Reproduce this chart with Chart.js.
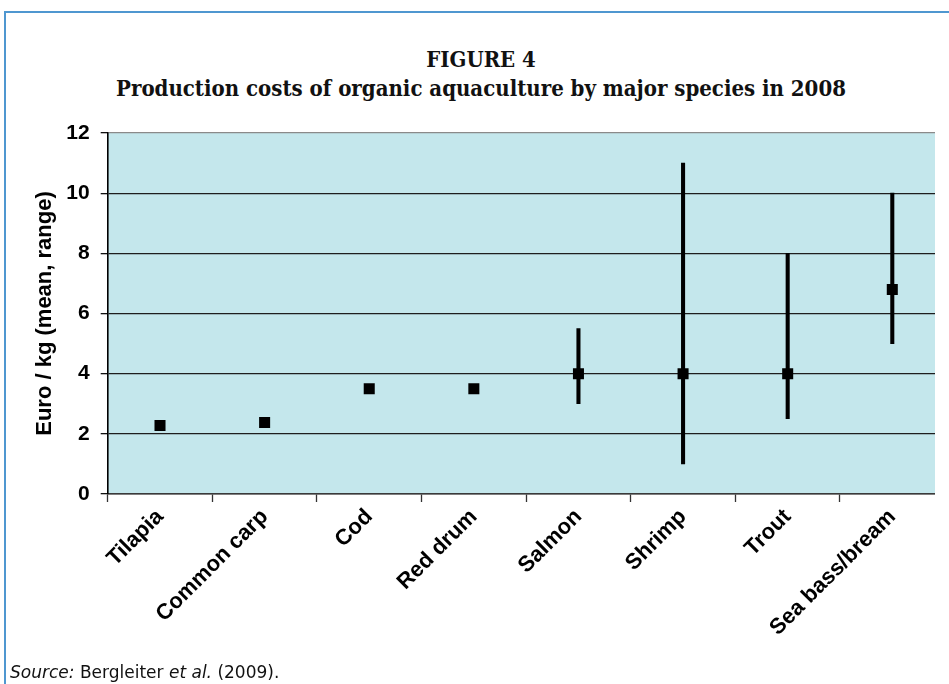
<!DOCTYPE html>
<html>
<head>
<meta charset="utf-8">
<script src="https://cdn.jsdelivr.net/npm/chart.js@4/dist/chart.umd.min.js"></script>
<style>
  html, body { margin: 0; padding: 0; background: #fff; }
  body { width: 949px; height: 684px; position: relative; overflow: hidden; }
  #frame { position: absolute; left: 4px; top: 11px; width: 960px; height: 700px;
           border-top: 2px solid #4f97d0; border-left: 2px solid #4f97d0; }
  .ttl { position: absolute; left: 0; width: 962px; text-align: center; line-height: 26px;
         font-family: "DejaVu Serif Condensed", "DejaVu Serif", serif; font-weight: bold; color: #111; font-size: 22px; }
  #t1 { top: 46px; }
  #t2 { top: 75px; }
  #wrap { position: absolute; left: 0; top: 0; width: 935px; height: 684px; overflow: hidden; }
  #source { position: absolute; left: 10px; top: 662px; line-height: 20px; font-family: "DejaVu Sans", Verdana, sans-serif;
            font-size: 17px; color: #111; }
</style>
</head>
<body>
<div id="frame"></div>
<div id="t1" class="ttl">FIGURE 4</div>
<div id="t2" class="ttl">Production costs of organic aquaculture by major species in 2008</div>
<div id="wrap"><canvas id="c" width="960" height="684"></canvas></div>
<div id="source"><i>Source:</i> Bergleiter <i>et al.</i> (2009).</div>
<script>
const categories = ['Tilapia', 'Common carp', 'Cod', 'Red drum', 'Salmon', 'Shrimp', 'Trout', 'Sea bass/bream'];
const meanCost = [2.28, 2.38, 3.5, 3.5, 4.0, 4.0, 4.0, 6.8];
const rangeLow = [null, null, null, null, 3.0, 1.0, 2.5, 5.0];
const rangeHigh = [null, null, null, null, 5.5, 11.0, 8.0, 10.0];
const yTickValues = [0, 2, 4, 6, 8, 10, 12];
const yAxisTitle = 'Euro / kg (mean, range)';

const rangeData = categories.map((c, i) => rangeLow[i] == null ? null : [rangeLow[i], rangeHigh[i]]);

const plotBg = {
  id: 'plotBg',
  beforeDraw(chart) {
    const {ctx, chartArea: a} = chart;
    ctx.save();
    ctx.fillStyle = 'rgb(196,231,236)';
    ctx.fillRect(a.left, a.top, a.right - a.left, a.bottom - a.top);
    ctx.restore();
  }
};

new Chart(document.getElementById('c'), {
  type: 'bar',
  data: {
    labels: categories,
    datasets: [
      {
        type: 'line',
        label: 'Mean',
        data: meanCost,
        showLine: false,
        pointStyle: 'rect',
        pointRadius: 7.8,
        pointHoverRadius: 7.8,
        pointBackgroundColor: '#000',
        pointBorderColor: '#000',
        pointBorderWidth: 0,
        order: 1
      },
      {
        type: 'bar',
        label: 'Range',
        data: rangeData,
        backgroundColor: '#000',
        borderWidth: 0,
        barThickness: 3.4,
        grouped: false,
        order: 2
      }
    ]
  },
  options: {
    responsive: false,
    animation: false,
    devicePixelRatio: 1,
    layout: { padding: { top: 133, right: 15.4, bottom: 0, left: 0 } },
    plugins: { legend: { display: false }, tooltip: { enabled: false }, title: { display: false } },
    scales: {
      x: {
        type: 'category',
        offset: true,
        afterFit(scale) { scale.height = 190; },
        grid: { offset: true, drawOnChartArea: false, drawTicks: true, tickLength: 8, tickColor: '#333', tickWidth: 1.3 },
        border: { display: true, color: '#3a3a3a', width: 1.5 },
        ticks: {
          minRotation: 45, maxRotation: 45, autoSkip: false, padding: 2,
          color: '#000',
          font: { family: 'Liberation Sans, Arial, sans-serif', weight: 'bold', size: 22 }
        }
      },
      y: {
        min: 0, max: 12,
        afterFit(scale) { scale.width = 107.7; },
        afterBuildTicks(scale) { scale.ticks = yTickValues.map(v => ({ value: v })); },
        grid: {
          color: (ctx) => (ctx.tick && ctx.tick.value === 12) ? '#8a8a8a' : '#1e1e1e',
          lineWidth: 1.3,
          tickLength: 7,
          tickColor: '#111'
        },
        border: { display: true, color: '#000', width: 1.6 },
        ticks: {
          stepSize: 2, padding: 11, color: '#000',
          font: { family: 'Liberation Sans, Arial, sans-serif', weight: 'bold', size: 21 }
        },
        title: {
          display: true, text: yAxisTitle, color: '#000',
          padding: { top: 32, bottom: 0 },
          font: { family: 'Liberation Sans, Arial, sans-serif', weight: 'bold', size: 22 }
        }
      }
    }
  },
  plugins: [plotBg]
});
</script>
</body>
</html>
